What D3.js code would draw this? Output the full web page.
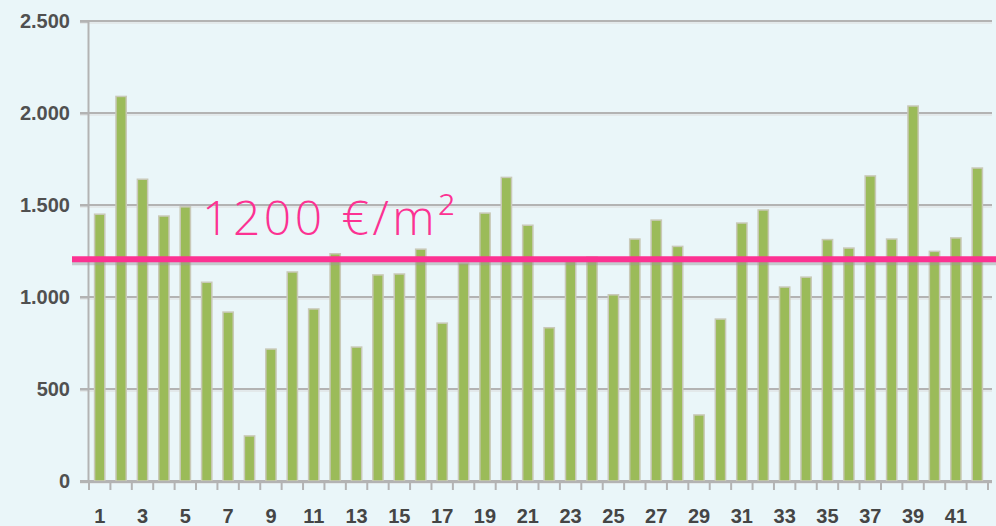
<!DOCTYPE html>
<html>
<head>
<meta charset="utf-8">
<script src="https://cdn.jsdelivr.net/npm/d3@7"></script>
<style>
  body { margin: 0; background: #eaf6f9; }
  svg { display: block; }
</style>
</head>
<body>
<main></main>
<script>
// one value per zone
var zones = d3.range(1, 43);
var prices = [1450, 2090, 1640, 1440, 1490, 1080, 918, 245, 717, 1136,
              935, 1235, 728, 1120, 1125, 1260, 858, 1185, 1456, 1650,
              1390, 833, 1212, 1217, 1012, 1315, 1418, 1275, 359, 880,
              1402, 1473, 1054, 1108, 1312, 1266, 1658, 1315, 2038, 1248,
              1321, 1701];
var yTicks = [0, 500, 1000, 1500, 2000, 2500];
var refValue = 1200;
var refLabel = '1200 €/m²';

!function(){
    var w = 996;
    var h = 526;

    let svg = d3.select('main')
        .append('svg')
        .attr('width', w)
        .attr('height', h)
        .style('background-color', '#eaf6f9');

    let xScale = d3.scaleBand().domain(zones).range([89, 988]).paddingInner(0.52).paddingOuter(0.26);
    let yScale = d3.scaleLinear().domain([0, 2500]).range([481, 21]);
    let fmt = d => d3.format(',')(d).replace(',', '.');

    // grid lines, doubled to get the soft 3d look
    let grid = svg.append('g');
    grid.selectAll('line.g1')
        .data(yTicks)
        .enter().append('line')
        .attr('x1', 80).attr('x2', 992)
        .attr('y1', d => yScale(d)).attr('y2', d => yScale(d))
        .attr('stroke', '#b3b3b3').attr('stroke-width', 2);
    grid.selectAll('line.g2')
        .data(yTicks)
        .enter().append('line')
        .attr('x1', 80).attr('x2', 992)
        .attr('y1', d => yScale(d) + 2).attr('y2', d => yScale(d) + 2)
        .attr('stroke', '#dcdcdc').attr('stroke-width', 1);

    // y axis
    let yAxis = d3.axisLeft(yScale).tickValues(yTicks).tickFormat(fmt).tickSize(8).tickPadding(10);
    let ya = svg.append('g')
        .attr('transform', 'translate(88,0)')
        .call(yAxis);
    ya.select('.domain').attr('stroke', '#b3b3b3').attr('stroke-width', 2);
    ya.selectAll('.tick line').attr('stroke', '#b3b3b3').attr('stroke-width', 2);
    ya.selectAll('text')
        .attr('fill', '#505050')
        .style('font-family', 'Liberation Sans, Arial, sans-serif')
        .style('font-weight', 'bold')
        .style('font-size', '20px')
        .attr('x', -18);

    // bars
    svg.append('g').selectAll('rect')
        .data(prices)
        .enter().append('rect')
        .attr('x', (d, i) => xScale(zones[i]))
        .attr('y', d => yScale(d))
        .attr('width', xScale.bandwidth())
        .attr('height', d => yScale(0) - yScale(d))
        .attr('fill', '#9bbb59')
        .attr('stroke', '#c9c9b8')
        .attr('stroke-width', 1.5);

    // x axis with ticks on the category edges
    let step = xScale.step();
    let edges = d3.range(0, 43).map(i => 89 + i * step);
    let xa = svg.append('g');
    xa.append('line')
        .attr('x1', 80).attr('x2', 992)
        .attr('y1', yScale(0) + 1).attr('y2', yScale(0) + 1)
        .attr('stroke', '#b3b3b3').attr('stroke-width', 2);
    xa.selectAll('line.t')
        .data(edges)
        .enter().append('line')
        .attr('x1', d => d).attr('x2', d => d)
        .attr('y1', yScale(0)).attr('y2', yScale(0) + 9)
        .attr('stroke', '#b3b3b3').attr('stroke-width', 2);
    xa.selectAll('text')
        .data(zones.filter(d => d % 2 == 1))
        .enter().append('text')
        .attr('x', d => xScale(d) + xScale.bandwidth() / 2)
        .attr('y', 523)
        .attr('text-anchor', 'middle')
        .attr('fill', '#454545')
        .style('font-family', 'Liberation Sans, Arial, sans-serif')
        .style('font-weight', 'bold')
        .style('font-size', '20px')
        .text(d => d);

    // reference line at 1200
    let ry = yScale(refValue) - 1;
    svg.append('line')
        .attr('x1', 72).attr('x2', 996)
        .attr('y1', ry + 4).attr('y2', ry + 4)
        .attr('stroke', '#9a9a9a').attr('stroke-opacity', 0.45).attr('stroke-width', 4);
    svg.append('line')
        .attr('x1', 72).attr('x2', 996)
        .attr('y1', ry).attr('y2', ry)
        .attr('stroke', '#fc3292').attr('stroke-width', 6);

    svg.append('text')
        .attr('x', 202)
        .attr('y', 235)
        .attr('fill', '#fc3292')
        .style('font-family', 'Open Sans, Lato, sans-serif')
        .style('font-weight', 300)
        .style('font-size', '48px')
        .style('letter-spacing', '3.5px')
        .text(refLabel);
}();
</script>
</body>
</html>
